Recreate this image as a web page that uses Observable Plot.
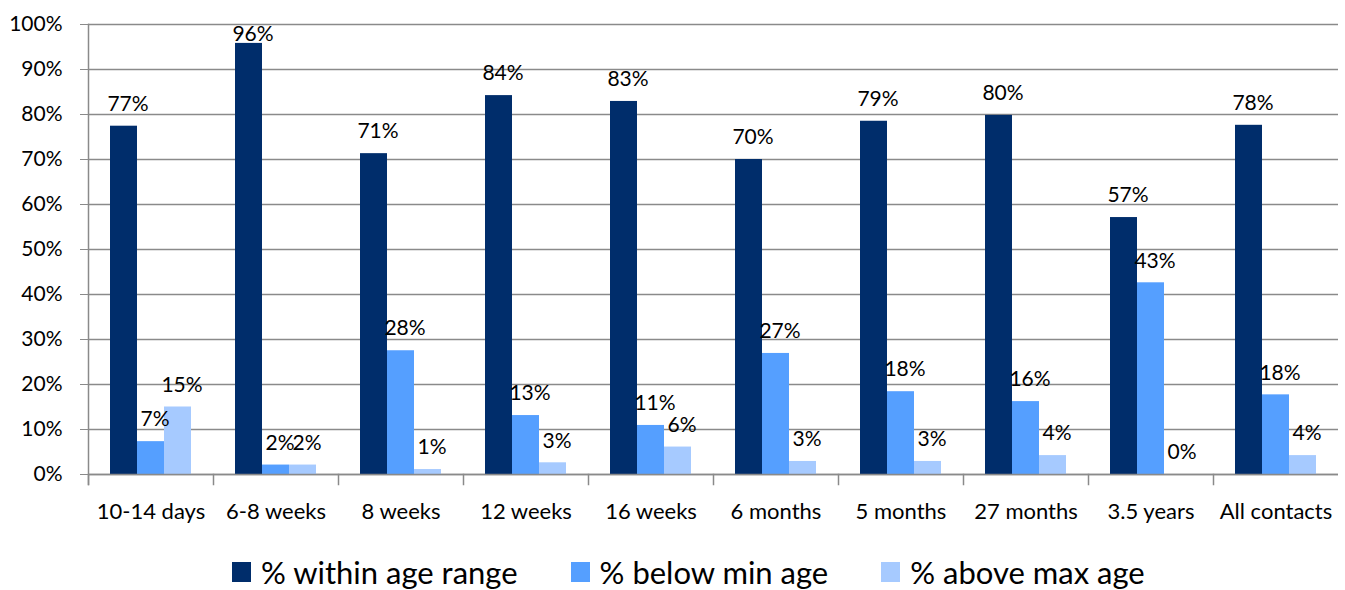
<!DOCTYPE html>
<html><head><meta charset="utf-8">
<script src="https://cdn.jsdelivr.net/npm/d3@7"></script>
<script src="https://cdn.jsdelivr.net/npm/@observablehq/plot@0.6"></script>
<style>
body{margin:0;background:#fff;overflow:hidden;font-family:Lato,sans-serif;width:1345px;height:590px}
#legend{position:absolute;left:232px;top:552px;display:flex;align-items:center;height:40px;font-size:31px;color:#000;white-space:nowrap}
.item{display:flex;align-items:center;margin-right:53px}
.sw{width:19px;height:20px;margin-right:10px}
</style>
</head><body>
<div id="chart"></div>
<div id="legend"></div>
<script>
const categories = ["10-14 days","6-8 weeks","8 weeks","12 weeks","16 weeks","6 months","5 months","27 months","3.5 years","All contacts"];
const series = ["% within age range","% below min age","% above max age"];
const withinRange = [77.4, 95.8, 71.3, 84.2, 82.9, 70.0, 78.5, 79.8, 57.1, 77.6];
const belowMin = [7.3, 2.1, 27.5, 13.1, 10.9, 26.9, 18.4, 16.2, 42.6, 17.7];
const aboveMax = [15.0, 2.1, 1.1, 2.6, 6.1, 2.9, 2.9, 4.2, 0, 4.2];
const yTicks = [0,10,20,30,40,50,60,70,80,90,100];
const colors = ["#002D6B","#559FFF","#A6CAFF"];

const seriesValues = [withinRange, belowMin, aboveMax];
const data = categories.flatMap((c,i)=>series.map((s,j)=>({category:c, series:s, value:seriesValues[j][i]})));

const grey = "#8a8a8a";
const W = 1345, H = 540, mT = 24, mB = 66;
const plotH = H - mT - mB;
const plot = Plot.plot({
  width:W, height:H,
  marginLeft:86, marginRight:5, marginTop:mT, marginBottom:mB,
  style:{fontFamily:"Lato, sans-serif", fontSize:"21px", color:"#000", background:"#fff"},
  fx:{domain:categories, padding:0, label:null},
  x:{domain:series, paddingInner:0, paddingOuter:0.74, axis:null},
  y:{domain:[0,100], label:null},
  color:{domain:series, range:colors},
  marks:[
    Plot.gridY(yTicks,{stroke:grey, strokeOpacity:1, strokeWidth:1.5}),
    Plot.frame({anchor:"left", facet:"super", stroke:grey, strokeWidth:1.5, insetBottom:-10}),
    Plot.frame({anchor:"left", stroke:grey, strokeWidth:1.5, insetTop:plotH, insetBottom:-10}),
    Plot.barY(data,{fx:"category", x:"series", y:"value", fill:"series"}),
    Plot.ruleY([0],{stroke:grey, strokeWidth:1.5}),
    Plot.text(data,{fx:"category", x:"series", y:d=>Math.min(d.value,93), text:d=>Math.round(d.value)+"%", dy:-22, dx:4, fontSize:21, fill:"#000"}),
    Plot.axisY(yTicks,{tickSize:8, tickPadding:18, tickFormat:d=>d+"%", stroke:grey, fill:"#000", fontSize:21, label:null}),
    Plot.axisFx({anchor:"bottom", tickSize:0, tickPadding:29, fontSize:22, label:null, fill:"#000"})
  ]
});
document.getElementById("chart").appendChild(plot);

const legend = document.getElementById("legend");
series.forEach((s,i)=>{
  const it = document.createElement("div"); it.className="item";
  const sw = document.createElement("div"); sw.className="sw"; sw.style.background=colors[i];
  const t = document.createElement("span"); t.textContent=s;
  it.appendChild(sw); it.appendChild(t); legend.appendChild(it);
});
</script>
</body></html>
